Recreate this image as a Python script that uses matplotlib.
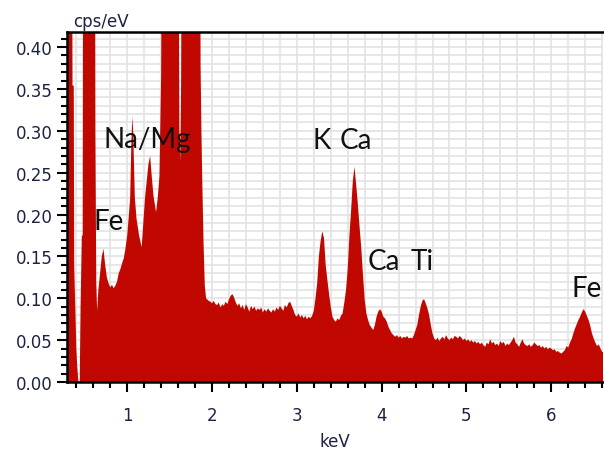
import matplotlib
matplotlib.use("Agg")
import matplotlib.pyplot as plt
from matplotlib.ticker import MultipleLocator, FormatStrFormatter

# spectrum (keV, cps/eV); 0.6 = clipped above the axis top
energy_low = [0.29, 0.35, 0.355, 0.37, 0.375, 0.385, 0.40, 0.41, 0.425, 0.44,
              0.45, 0.465, 0.475, 0.48, 0.62, 0.625, 0.635, 0.645, 0.66, 0.68,
              0.70, 0.72, 0.74, 0.76, 0.78, 0.80, 0.82, 0.84, 0.86, 0.88,
              0.90, 0.92, 0.94, 0.96, 0.98, 1.00, 1.02, 1.035, 1.05, 1.06,
              1.07, 1.09, 1.11, 1.14, 1.17, 1.19, 1.21, 1.23, 1.25, 1.27,
              1.29, 1.31, 1.34, 1.36, 1.38, 1.40, 1.41, 1.605, 1.615, 1.625,
              1.635, 1.645, 1.86, 1.865, 1.875, 1.885, 1.90, 1.915, 1.93]
cps_low = [0.6, 0.6, 0.354, 0.354, 0.14, 0.10, 0.04, 0.02, 0.0, 0.0,
           0.09, 0.175, 0.175, 0.6, 0.6, 0.30, 0.12, 0.085, 0.11, 0.13,
           0.15, 0.159, 0.14, 0.125, 0.118, 0.113, 0.116, 0.112, 0.115, 0.12,
           0.13, 0.135, 0.142, 0.148, 0.16, 0.175, 0.20, 0.22, 0.29, 0.317,
           0.30, 0.22, 0.195, 0.175, 0.161, 0.19, 0.22, 0.24, 0.26, 0.27,
           0.245, 0.222, 0.203, 0.22, 0.246, 0.366, 0.6, 0.6, 0.30, 0.263,
           0.35, 0.6, 0.6, 0.38, 0.30, 0.24, 0.167, 0.115, 0.100]

energy_high = [1.94, 1.96, 1.98, 2.00, 2.02, 2.04, 2.06, 2.08, 2.10, 2.12,
               2.14, 2.16, 2.18, 2.20, 2.22, 2.24, 2.26, 2.28, 2.30, 2.32,
               2.34, 2.36, 2.38, 2.40, 2.42, 2.44, 2.46, 2.48, 2.50, 2.52,
               2.54, 2.56, 2.58, 2.60, 2.62, 2.64, 2.66, 2.68, 2.70, 2.72,
               2.74, 2.76, 2.78, 2.80, 2.82, 2.84, 2.86, 2.88, 2.90, 2.92,
               2.94, 2.96, 2.98, 3.00, 3.02, 3.04, 3.06, 3.08, 3.10, 3.12,
               3.14, 3.16, 3.18, 3.20, 3.22, 3.24, 3.26, 3.28, 3.30, 3.32,
               3.34, 3.36, 3.38, 3.40, 3.42, 3.44, 3.46, 3.48, 3.50, 3.52,
               3.54, 3.56, 3.58, 3.60, 3.62, 3.64, 3.66, 3.68, 3.70, 3.72,
               3.74, 3.76, 3.78, 3.80, 3.82, 3.84, 3.86, 3.88, 3.90, 3.92,
               3.94, 3.96, 3.98, 4.00, 4.02, 4.04, 4.06, 4.08, 4.10, 4.12,
               4.14, 4.16, 4.18, 4.20, 4.22, 4.24, 4.26, 4.28, 4.30, 4.32,
               4.34, 4.36, 4.38, 4.40, 4.42, 4.44, 4.46, 4.48, 4.50, 4.52,
               4.54, 4.56, 4.58, 4.60, 4.62, 4.64, 4.66, 4.68, 4.70, 4.72,
               4.74, 4.76, 4.78, 4.80, 4.82, 4.84, 4.86, 4.88, 4.90, 4.92,
               4.94, 4.96, 4.98, 5.00, 5.02, 5.04, 5.06, 5.08, 5.10, 5.12,
               5.14, 5.16, 5.18, 5.20, 5.22, 5.24, 5.26, 5.28, 5.30, 5.32,
               5.34, 5.36, 5.38, 5.40, 5.42, 5.44, 5.46, 5.48, 5.50, 5.52,
               5.54, 5.56, 5.58, 5.60, 5.62, 5.64, 5.66, 5.68, 5.70, 5.72,
               5.74, 5.76, 5.78, 5.80, 5.82, 5.84, 5.86, 5.88, 5.90, 5.92,
               5.94, 5.96, 5.98, 6.00, 6.02, 6.04, 6.06, 6.08, 6.10, 6.12,
               6.14, 6.16, 6.18, 6.20, 6.22, 6.24, 6.26, 6.28, 6.30, 6.32,
               6.34, 6.36, 6.38, 6.40, 6.42, 6.44, 6.46, 6.48, 6.50, 6.52,
               6.54, 6.56, 6.58, 6.60, 6.62]
cps_high = [0.099, 0.097, 0.096, 0.094, 0.097, 0.093, 0.092, 0.095, 0.089, 0.093,
            0.091, 0.096, 0.093, 0.099, 0.103, 0.105, 0.101, 0.095, 0.091, 0.094,
            0.088, 0.092, 0.086, 0.093, 0.089, 0.084, 0.091, 0.087, 0.090, 0.085,
            0.088, 0.086, 0.089, 0.083, 0.087, 0.084, 0.088, 0.085, 0.083, 0.087,
            0.084, 0.089, 0.086, 0.091, 0.088, 0.085, 0.092, 0.089, 0.094, 0.096,
            0.091, 0.086, 0.080, 0.078, 0.082, 0.077, 0.080, 0.076, 0.079, 0.075,
            0.078, 0.076, 0.079, 0.085, 0.100, 0.118, 0.150, 0.168, 0.180, 0.172,
            0.140, 0.122, 0.105, 0.090, 0.078, 0.074, 0.072, 0.076, 0.074, 0.079,
            0.082, 0.095, 0.110, 0.135, 0.175, 0.205, 0.240, 0.257, 0.235, 0.212,
            0.185, 0.160, 0.128, 0.098, 0.082, 0.074, 0.068, 0.065, 0.062, 0.068,
            0.078, 0.084, 0.087, 0.084, 0.078, 0.076, 0.072, 0.066, 0.062, 0.058,
            0.056, 0.054, 0.056, 0.053, 0.055, 0.052, 0.054, 0.053, 0.055, 0.052,
            0.053, 0.052, 0.056, 0.062, 0.068, 0.080, 0.090, 0.097, 0.099, 0.094,
            0.088, 0.080, 0.068, 0.058, 0.052, 0.050, 0.053, 0.049, 0.052, 0.054,
            0.051, 0.056, 0.052, 0.050, 0.053, 0.051, 0.055, 0.054, 0.052, 0.055,
            0.053, 0.050, 0.052, 0.049, 0.051, 0.048, 0.050, 0.047, 0.049, 0.046,
            0.048, 0.045, 0.047, 0.044, 0.042, 0.047, 0.045, 0.051, 0.046, 0.048,
            0.044, 0.046, 0.043, 0.049, 0.046, 0.048, 0.043, 0.046, 0.044, 0.047,
            0.050, 0.054, 0.047, 0.045, 0.042, 0.047, 0.051, 0.046, 0.044, 0.043,
            0.045, 0.042, 0.044, 0.047, 0.045, 0.043, 0.044, 0.041, 0.043, 0.040,
            0.042, 0.039, 0.041, 0.040, 0.038, 0.039, 0.036, 0.037, 0.035, 0.034,
            0.036, 0.038, 0.043, 0.041, 0.047, 0.051, 0.058, 0.064, 0.069, 0.074,
            0.078, 0.083, 0.087, 0.084, 0.079, 0.074, 0.067, 0.058, 0.052, 0.047,
            0.043, 0.045, 0.040, 0.036, 0.035]

energy = energy_low + energy_high
cps = cps_low + cps_high

# element labels: (text, keV, cps/eV) at left/baseline
labels = [("Na/Mg", 0.72, 0.281), ("Fe", 0.60, 0.183), ("K", 3.18, 0.280),
          ("Ca", 3.51, 0.280), ("Ca", 3.83, 0.135), ("Ti", 4.34, 0.135),
          ("Fe", 6.24, 0.103)]

fig = plt.figure(figsize=(6.04, 4.52), dpi=100)
ax = fig.add_axes([67 / 604, 1 - 383 / 452, 536 / 604, 350 / 452])

ax.fill_between(energy, cps, color="#c00800", linewidth=0)
ax.set_xlim(0.29, 6.61)
ax.set_ylim(0, 0.418)

ax.xaxis.set_major_locator(MultipleLocator(1))
ax.xaxis.set_minor_locator(MultipleLocator(0.2))
ax.yaxis.set_major_locator(MultipleLocator(0.05))
ax.yaxis.set_minor_locator(MultipleLocator(0.01))
ax.yaxis.set_major_formatter(FormatStrFormatter("%.2f"))

ax.set_axisbelow(True)
ax.grid(which="both", color="#e3e3e3", linewidth=1.2)

tick_color = "#1c2340"
ax.tick_params(which="major", direction="out", length=7, width=1.5,
               labelsize=12, labelcolor=tick_color)
ax.tick_params(which="minor", direction="out", length=4, width=1.5)
ax.tick_params(axis="x", which="major", pad=10)

for side in ["left", "bottom", "top"]:
    ax.spines[side].set_linewidth(1.8)
ax.spines["right"].set_visible(False)

ax.set_xlabel("keV", fontsize=12, color=tick_color, labelpad=6)
fig.text(73 / 604, 1 - 27 / 452, "cps/eV", fontsize=12, color=tick_color,
         ha="left", va="baseline")

for text, x, y in labels:
    ax.text(x, y, text, fontsize=20, family="Lato",
            ha="left", va="baseline", color="#111111")

fig.savefig("out.png", dpi=100)
